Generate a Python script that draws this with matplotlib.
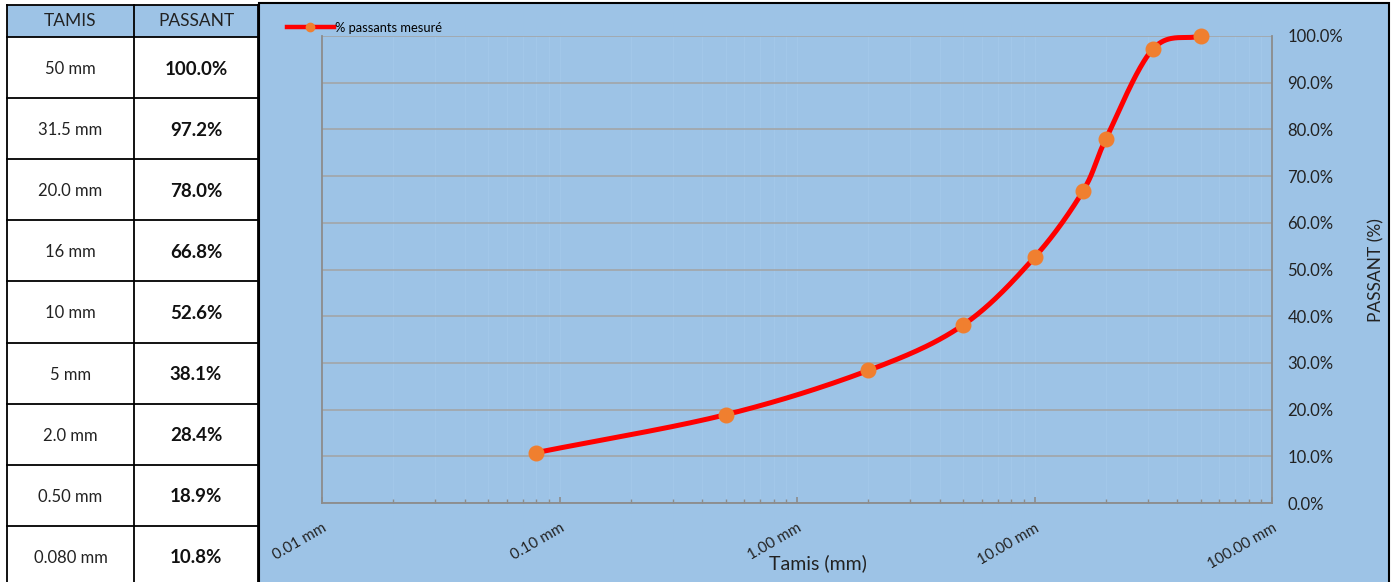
import numpy as np
import matplotlib
matplotlib.use("Agg")
import matplotlib.pyplot as plt
from matplotlib.patches import Rectangle
from matplotlib.lines import Line2D
from matplotlib.ticker import LogLocator, NullFormatter

# ---------------- data ----------------
tamis_labels = ["50 mm", "31.5 mm", "20.0 mm", "16 mm", "10 mm", "5 mm", "2.0 mm", "0.50 mm", "0.080 mm"]
tamis_mm = [50, 31.5, 20.0, 16, 10, 5, 2.0, 0.50, 0.080]
passant = [100.0, 97.2, 78.0, 66.8, 52.6, 38.1, 28.4, 18.9, 10.8]
x_ticks = [0.01, 0.1, 1, 10, 100]
x_tick_labels = ["0.01 mm", "0.10 mm", "1.00 mm", "10.00 mm", "100.00 mm"]
y_ticks = [0, 10, 20, 30, 40, 50, 60, 70, 80, 90, 100]
y_tick_labels = [f"{v:.1f}%" for v in y_ticks]

FONT = ["Lato", "DejaVu Sans"]
plt.rcParams["font.family"] = FONT

W, H = 1394, 582
fig = plt.figure(figsize=(W / 100, H / 100), dpi=100)
fig.patch.set_facecolor("white")


def fx(px):
    return px / W


def fy(py):
    return 1 - py / H


PANEL = "#9DC3E6"

# --------------- chart panel background ---------------
fig.patches.append(Rectangle((fx(259), fy(590)), fx(1389) - fx(259), fy(3) - fy(590),
                             transform=fig.transFigure, facecolor=PANEL,
                             edgecolor="black", linewidth=1.5, zorder=-5))

# --------------- table ---------------
col_x = [7, 134, 258]
head_top, head_bot = 5, 37
row_h = 61.1
fig.patches.append(Rectangle((fx(col_x[0]), fy(head_bot)), fx(col_x[2]) - fx(col_x[0]),
                             fy(head_top) - fy(head_bot), transform=fig.transFigure,
                             facecolor=PANEL, edgecolor="none", zorder=-4))
lw = 1.3
ys = [head_top, head_bot] + [head_bot + row_h * (i + 1) for i in range(len(tamis_labels))]
for yy in ys:
    fig.add_artist(Line2D([fx(col_x[0]), fx(col_x[2])], [fy(yy), fy(yy)],
                          transform=fig.transFigure, color="black", lw=lw, zorder=2))
for xx in col_x:
    fig.add_artist(Line2D([fx(xx), fx(xx)], [fy(head_top), fy(600)],
                          transform=fig.transFigure, color="black", lw=lw, zorder=2))

fig.text(fx((col_x[0] + col_x[1]) / 2), fy(21.5), "TAMIS", ha="center", va="center",
         fontsize=12.5, color="#222222")
fig.text(fx((col_x[1] + col_x[2]) / 2), fy(21.5), "PASSANT", ha="center", va="center",
         fontsize=12.5, color="#222222")
for i, (lab, val) in enumerate(zip(tamis_labels, passant)):
    cy = head_bot + 1.5 + row_h * (i + 0.5)
    fig.text(fx((col_x[0] + col_x[1]) / 2), fy(cy), lab, ha="center", va="center",
             fontsize=12, color="#222222")
    fig.text(fx((col_x[1] + col_x[2]) / 2), fy(cy), f"{val:.1f}%", ha="center", va="center",
             fontsize=13.5, fontweight="bold", color="#111111")

# --------------- axes ---------------
L, R, T, B = 322, 1272, 36, 503
ax = fig.add_axes([fx(L), fy(B), (R - L) / W, (B - T) / H], zorder=1)
ax.set_facecolor("none")
ax.set_xscale("log")
ax.set_xlim(0.01, 100)
ax.set_ylim(0, 100)

GRID = "#A3A3A3"
for s in ["left", "right", "bottom"]:
    ax.spines[s].set_color("#8C8C8C")
    ax.spines[s].set_linewidth(1.3)
ax.spines["top"].set_visible(False)

ax.yaxis.tick_right()
ax.set_yticks(y_ticks)
ax.set_yticklabels(y_tick_labels, fontsize=12, color="#222222")
ax.tick_params(axis="y", length=0, pad=11)
ax.yaxis.grid(True, color=GRID, lw=1.1)

ax.set_xticks(x_ticks)
ax.set_xticklabels(x_tick_labels, fontsize=11, color="#222222", rotation=30,
                   ha="right", rotation_mode="anchor")
ax.xaxis.set_minor_locator(LogLocator(base=10, subs=np.arange(2, 10)))
ax.xaxis.set_minor_formatter(NullFormatter())
ax.tick_params(axis="x", which="major", direction="in", length=4, color="#8C8C8C",
               width=1.2, pad=13)
ax.tick_params(axis="x", which="minor", direction="in", length=3, color="#8C8C8C", width=1)
ax.xaxis.grid(True, which="both", color="#A2C7E9", lw=0.8)
ax.set_axisbelow(True)

# smoothed curve (Catmull-Rom in display space, like a spreadsheet smoothed line)
xs = np.array(tamis_mm[::-1], dtype=float)
ys_ = np.array(passant[::-1], dtype=float)
fig.canvas.draw()
pts = ax.transData.transform(np.column_stack([xs, ys_]))
P = np.vstack([pts[0] * 2 - pts[1], pts, pts[-1] * 2 - pts[-2]])
curve = []
for i in range(1, len(P) - 2):
    p0, p1, p2, p3 = P[i - 1], P[i], P[i + 1], P[i + 2]
    t = np.linspace(0, 1, 40)[:, None]
    seg = 0.5 * ((2 * p1) + (-p0 + p2) * t + (2 * p0 - 5 * p1 + 4 * p2 - p3) * t ** 2
                 + (-p0 + 3 * p1 - 3 * p2 + p3) * t ** 3)
    curve.append(seg)
curve = np.vstack(curve)
cdata = ax.transData.inverted().transform(curve)
ax.plot(cdata[:, 0], cdata[:, 1], color="#FF0000", lw=3.6, solid_capstyle="round",
        zorder=3, clip_on=False)
ax.plot(xs, ys_, linestyle="none", marker="o", markersize=10.5, color="#F07F2F",
        markeredgecolor="#F07F2F", zorder=4, clip_on=False)

handle = Line2D([], [], color="#FF0000", lw=3.2, marker="o", markersize=6,
                markerfacecolor="#F07F2F", markeredgecolor="#F07F2F")
fig.legend([handle], ["% passants mesuré"], loc="center left",
           bbox_to_anchor=(fx(287), fy(28)), frameon=False, fontsize=9.3,
           handlelength=3.6, handletextpad=0.15, borderpad=0, borderaxespad=0)

fig.text(fx(818), fy(563), "Tamis (mm)", ha="center", va="center", fontsize=14,
         color="#222222")
fig.text(fx(1376), fy(270), "PASSANT (%)", ha="center", va="center", rotation=90,
         fontsize=12.5, color="#222222")

fig.savefig("out.png", dpi=100)
